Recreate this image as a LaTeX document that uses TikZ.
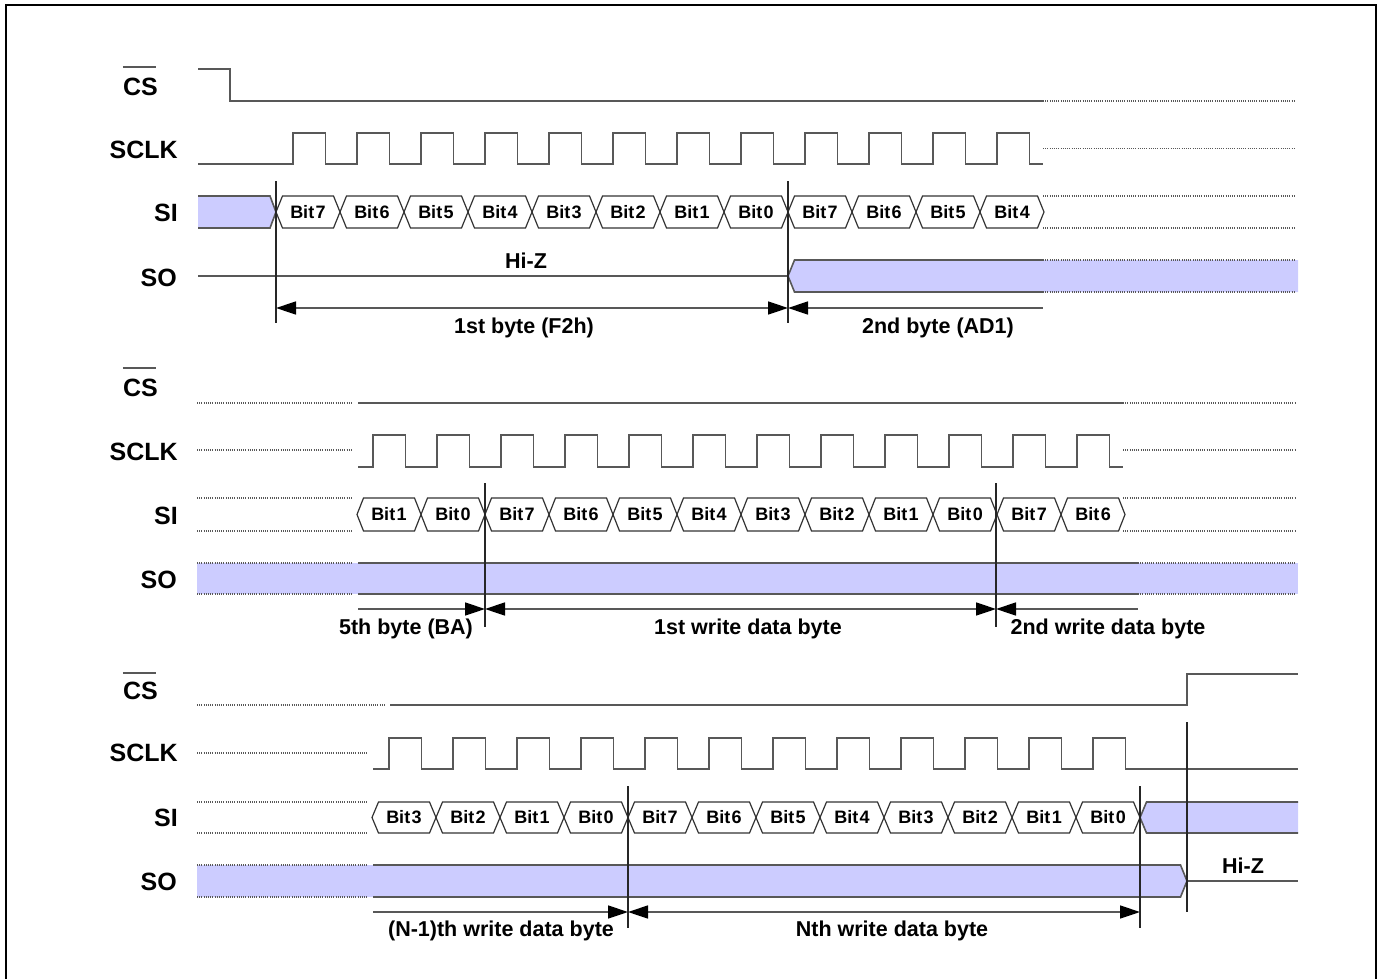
\documentclass[tikz,border=0pt]{standalone}
\usepackage{fontspec}
\setmainfont{Liberation Sans}[BoldFont={Liberation Sans Bold}]
\usetikzlibrary{arrows.meta}
\definecolor{busblue}{RGB}{204,204,255}
\definecolor{sig}{RGB}{88,88,88}
\tikzset{
  sigline/.style={draw=sig, line width=1.6pt},
  dotline/.style={draw=sig, line width=1.1pt, dash pattern=on 1pt off 1.2pt},
  cellline/.style={draw=black!80, line width=1.2pt, line join=miter},
  vline/.style={draw=black!85, line width=1.3pt},
  dimline/.style={draw=sig, line width=1.5pt},
  >={Triangle[length=20pt,width=13pt,color=black]},
  siglbl/.style={font=\fontsize{25}{25}\selectfont\bfseries, inner sep=0pt, anchor=east},
  bitlbl/.style={font=\fontsize{18}{18}\selectfont\bfseries, inner sep=0pt},
  annlbl/.style={font=\fontsize{21.5}{22}\selectfont\bfseries, inner sep=0pt, text height=15.5pt, text depth=0pt},
  overl/.style={draw=sig, line width=1.4pt},
}
\newcommand\bitrow[5]{%
  \foreach \t [count=\i from 0] in {#4} {
    \pgfmathsetmacro\xa{#1+64*\i}
    \pgfmathsetmacro\ym{(#2+#3)/2}
    \draw[cellline] (\xa,\ym) -- ({\xa+6.5},#2) -- ({\xa+57.5},#2) -- ({\xa+64},\ym) -- ({\xa+57.5},#3) -- ({\xa+6.5},#3) -- cycle;
    \node[bitlbl] (#5\i) at ({\xa+32},\ym) {Bit\kern1.5pt\t};
  }}
\begin{document}
\begin{tikzpicture}[x=1pt,y=-1pt]
\useasboundingbox (0,0) rectangle (1383,979);
% border
\draw[line width=1.8pt] (6,990) -- (6,5) -- (1376,5) -- (1376,990);

% ================= TOP SECTION =================
\node[siglbl] (cs1) at (158,87) {CS};
\draw[overl] ([yshift=11pt]cs1.north west) -- ([yshift=11pt,xshift=-2pt]cs1.north east);
\node[siglbl] (sclk1) at (178,150) {SCLK};
\node[siglbl] (si1) at (178,213) {SI};
\node[siglbl] (so1) at (177,278) {SO};

\draw[sigline] (198,69) -- (230,69) -- (230,101) -- (1043,101);
\draw[dotline] (1043,101) -- (1295,101);

\draw[sigline] (198,164) \foreach \k in {0,...,11}{ -- ({293+64*\k},164) -- ({293+64*\k},133) -- ({325.5+64*\k},133) -- ({325.5+64*\k},164)} -- (1043,164);
\draw[dotline] (1043,148.5) -- (1295,148.5);

\fill[busblue] (198,196) -- (270,196) -- (276,212) -- (270,228) -- (198,228) -- cycle;
\draw[sigline] (198,196) -- (270,196) -- (276,212) -- (270,228) -- (198,228);
\bitrow{276}{196}{228}{7,6,5,4,3,2,1,0,7,6,5,4}{ta}
\draw[dotline] (1043,196) -- (1295,196) (1043,228) -- (1295,228);

\draw[sigline] (198,276) -- (788,276);
\fill[busblue] (788,276) -- (794.5,260) -- (1298,260) -- (1298,292) -- (794.5,292) -- cycle;
\draw[sigline] (1043,260) -- (794.5,260) -- (788,276) -- (794.5,292) -- (1043,292);
\draw[dotline] (1043,260) -- (1295,260) (1043,292) -- (1295,292);
\node[annlbl] (hiz1) at (526,261) {Hi-Z};

\draw[dimline,<->] (276,308) -- (788,308);
\draw[dimline,<-] (788,308) -- (1043,308);
\node[annlbl] (b1) at (524,326) {1st byte (F2h)};
\node[annlbl] (b2) at (938,326) {2nd byte (AD1)};

\draw[vline] (276,181) -- (276,323) (788,181) -- (788,323);

% ================= MIDDLE SECTION =================
\node[siglbl] (cs2) at (158,388) {CS};
\draw[overl] ([yshift=11pt]cs2.north west) -- ([yshift=11pt,xshift=-2pt]cs2.north east);
\node[siglbl] (sclk2) at (178,452) {SCLK};
\node[siglbl] (si2) at (178,516) {SI};
\node[siglbl] (so2) at (177,580) {SO};

\draw[dotline] (197,403) -- (352,403);
\draw[sigline] (358,403) -- (1123,403);
\draw[dotline] (1123,403) -- (1295,403);

\draw[dotline] (197,450) -- (352,450);
\draw[sigline] (358,467) \foreach \k in {0,...,11}{ -- ({373+64*\k},467) -- ({373+64*\k},435) -- ({405.5+64*\k},435) -- ({405.5+64*\k},467)} -- (1123,467);
\draw[dotline] (1123,450) -- (1295,450);

\draw[dotline] (197,498) -- (352,498) (197,531) -- (352,531) (1123,498) -- (1295,498) (1123,531) -- (1295,531);
\bitrow{357}{498}{531}{1,0,7,6,5,4,3,2,1,0,7,6}{mb}

\fill[busblue] (197,563) rectangle (1298,594);
\draw[dotline] (197,563) -- (352,563) (197,594) -- (352,594) (1138,563) -- (1295,563) (1138,594) -- (1295,594);
\draw[sigline] (358,563) -- (1138,563) (358,594) -- (1138,594);

\draw[dimline,->] (358,609) -- (485,609);
\draw[dimline,<->] (485,609) -- (996,609);
\draw[dimline,<-] (996,609) -- (1138,609);
\node[annlbl] (m1) at (406,627) {5th byte (BA)};
\node[annlbl] (m2) at (748,627) {1st write data byte};
\node[annlbl] (m3) at (1108,627) {2nd write data byte};

\draw[vline] (485,483) -- (485,627) (996,483) -- (996,627);

% ================= BOTTOM SECTION =================
\node[siglbl] (cs3) at (158,691) {CS};
\draw[overl] ([yshift=9pt]cs3.north west) -- ([yshift=9pt,xshift=-2pt]cs3.north east);
\node[siglbl] (sclk3) at (178,753) {SCLK};
\node[siglbl] (si3) at (178,818) {SI};
\node[siglbl] (so3) at (177,882) {SO};

\draw[dotline] (197,705) -- (385,705);
\draw[sigline] (390,705) -- (1187,705) -- (1187,674) -- (1298,674);

\draw[dotline] (197,753) -- (368,753);
\draw[sigline] (373,769) \foreach \k in {0,...,11}{ -- ({389+64*\k},769) -- ({389+64*\k},738) -- ({421.5+64*\k},738) -- ({421.5+64*\k},769)} -- (1298,769);

\draw[dotline] (197,802) -- (368,802) (197,833) -- (368,833);
\bitrow{372}{802}{833}{3,2,1,0,7,6,5,4,3,2,1,0}{bb}
\fill[busblue] (1140,817.5) -- (1146.5,802) -- (1298,802) -- (1298,833) -- (1146.5,833) -- cycle;
\draw[sigline] (1298,802) -- (1146.5,802) -- (1140,817.5) -- (1146.5,833) -- (1298,833);

\fill[busblue] (197,865) -- (1180.5,865) -- (1187,881) -- (1180.5,897) -- (197,897) -- cycle;
\draw[dotline] (197,865) -- (368,865) (197,897) -- (368,897);
\draw[sigline] (373,865) -- (1180.5,865) -- (1187,881) -- (1180.5,897) -- (373,897);
\draw[sigline] (1187,881) -- (1298,881);
\node[annlbl] (hiz3) at (1243,866) {Hi-Z};

\draw[dimline,->] (373,912) -- (628,912);
\draw[dimline,<->] (628,912) -- (1140,912);
\node[annlbl] (n1) at (501,929) {(N-1)th write data byte};
\node[annlbl] (n2) at (892,929) {Nth write data byte};

\draw[vline] (628,786) -- (628,928) (1140,786) -- (1140,928) (1187,722) -- (1187,912);
\end{tikzpicture}
\end{document}
